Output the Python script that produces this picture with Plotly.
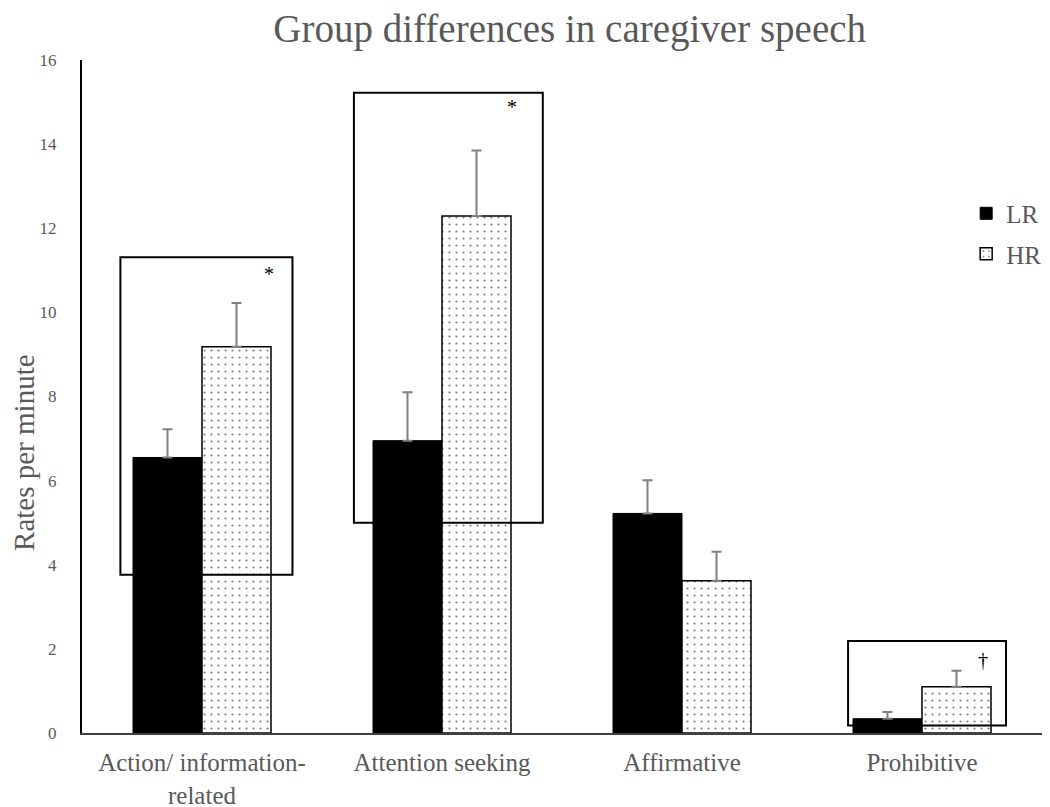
import plotly.graph_objects as go

categories = ["Action/ information-<br>related", "Attention seeking", "Affirmative", "Prohibitive"]
lr_values = [6.55, 6.95, 5.22, 0.34]
lr_errors = [0.67, 1.15, 0.79, 0.16]
hr_values = [9.18, 12.29, 3.62, 1.10]
hr_errors = [1.04, 1.56, 0.69, 0.38]

# significance boxes (category index units / y units)
box_x0 = [-0.34, 0.633, 2.692]
box_x1 = [0.377, 1.42, 3.35]
box_y0 = [3.76, 5.0, 0.18]
box_y1 = [11.31, 15.22, 2.19]
sig_text = ["*", "*", "\u2020"]
sig_x = [0.28, 1.29, 3.255]
sig_y = [10.91, 14.88, 1.74]

FONT = "Liberation Serif"
GREY = "#595959"

fig = go.Figure()
fig.add_trace(go.Bar(
    name="LR", x=categories, y=lr_values, legendgroup="a",
    marker=dict(color="black", line=dict(color="black", width=1)),
    error_y=dict(type="data", symmetric=False, array=lr_errors,
                 arrayminus=[0] * len(lr_errors), color="#808080",
                 thickness=2, width=5),
))
fig.add_trace(go.Bar(
    name="HR", x=categories, y=hr_values, legendgroup="b",
    marker=dict(color="white", line=dict(color="black", width=1.5),
                pattern=dict(shape=".", fgcolor="black", bgcolor="white",
                             size=7, solidity=0.08)),
    error_y=dict(type="data", symmetric=False, array=hr_errors,
                 arrayminus=[0] * len(hr_errors), color="#808080",
                 thickness=2, width=5),
))

for x0, x1, y0, y1 in zip(box_x0, box_x1, box_y0, box_y1):
    fig.add_shape(type="rect", xref="x", yref="y", x0=x0, x1=x1, y0=y0, y1=y1,
                  line=dict(color="black", width=2), fillcolor="rgba(0,0,0,0)",
                  layer="above")

for t, x, y in zip(sig_text, sig_x, sig_y):
    fig.add_annotation(x=x, y=y, xref="x", yref="y", text=t, showarrow=False,
                       font=dict(family=FONT, size=20, color="black"))

# y-axis title as a rotated text label placed left of the tick labels
fig.add_annotation(text="Rates per minute", xref="paper", yref="paper",
                   x=-0.0605, y=0.4175, xanchor="center", yanchor="middle",
                   textangle=-90, showarrow=False,
                   font=dict(family=FONT, size=29, color=GREY))

fig.update_layout(
    width=1042, height=799,
    paper_bgcolor="white", plot_bgcolor="white",
    margin=dict(l=74, r=8, t=52, b=74, autoexpand=False),
    barmode="group", bargap=0.425, bargroupgap=0,
    font=dict(family=FONT, color=GREY),
    title=dict(text="Group differences in caregiver speech", x=0.508, xanchor="center",
               xref="paper", yref="container", y=0.975, yanchor="middle",
               font=dict(family=FONT, size=39, color=GREY)),
    legend=dict(x=0.921, y=0.806, xanchor="left", yanchor="top",
                font=dict(family=FONT, size=25, color=GREY),
                tracegroupgap=5, bgcolor="rgba(0,0,0,0)"),
    showlegend=True,
)
fig.update_xaxes(
    showline=True, linecolor="#404040", linewidth=2, showgrid=False,
    ticks="", tickfont=dict(family=FONT, size=25, color=GREY),
    ticklabelstandoff=6, range=[-0.5, 3.5], zeroline=False, automargin=False,
)
fig.update_yaxes(
    range=[0, 16], dtick=2, showline=True, linecolor="black", linewidth=2,
    showgrid=False, zeroline=False, ticks="", automargin=False,
    tickfont=dict(family=FONT, size=17, color=GREY), ticklabelstandoff=20,
)

fig.write_html("out.html")
